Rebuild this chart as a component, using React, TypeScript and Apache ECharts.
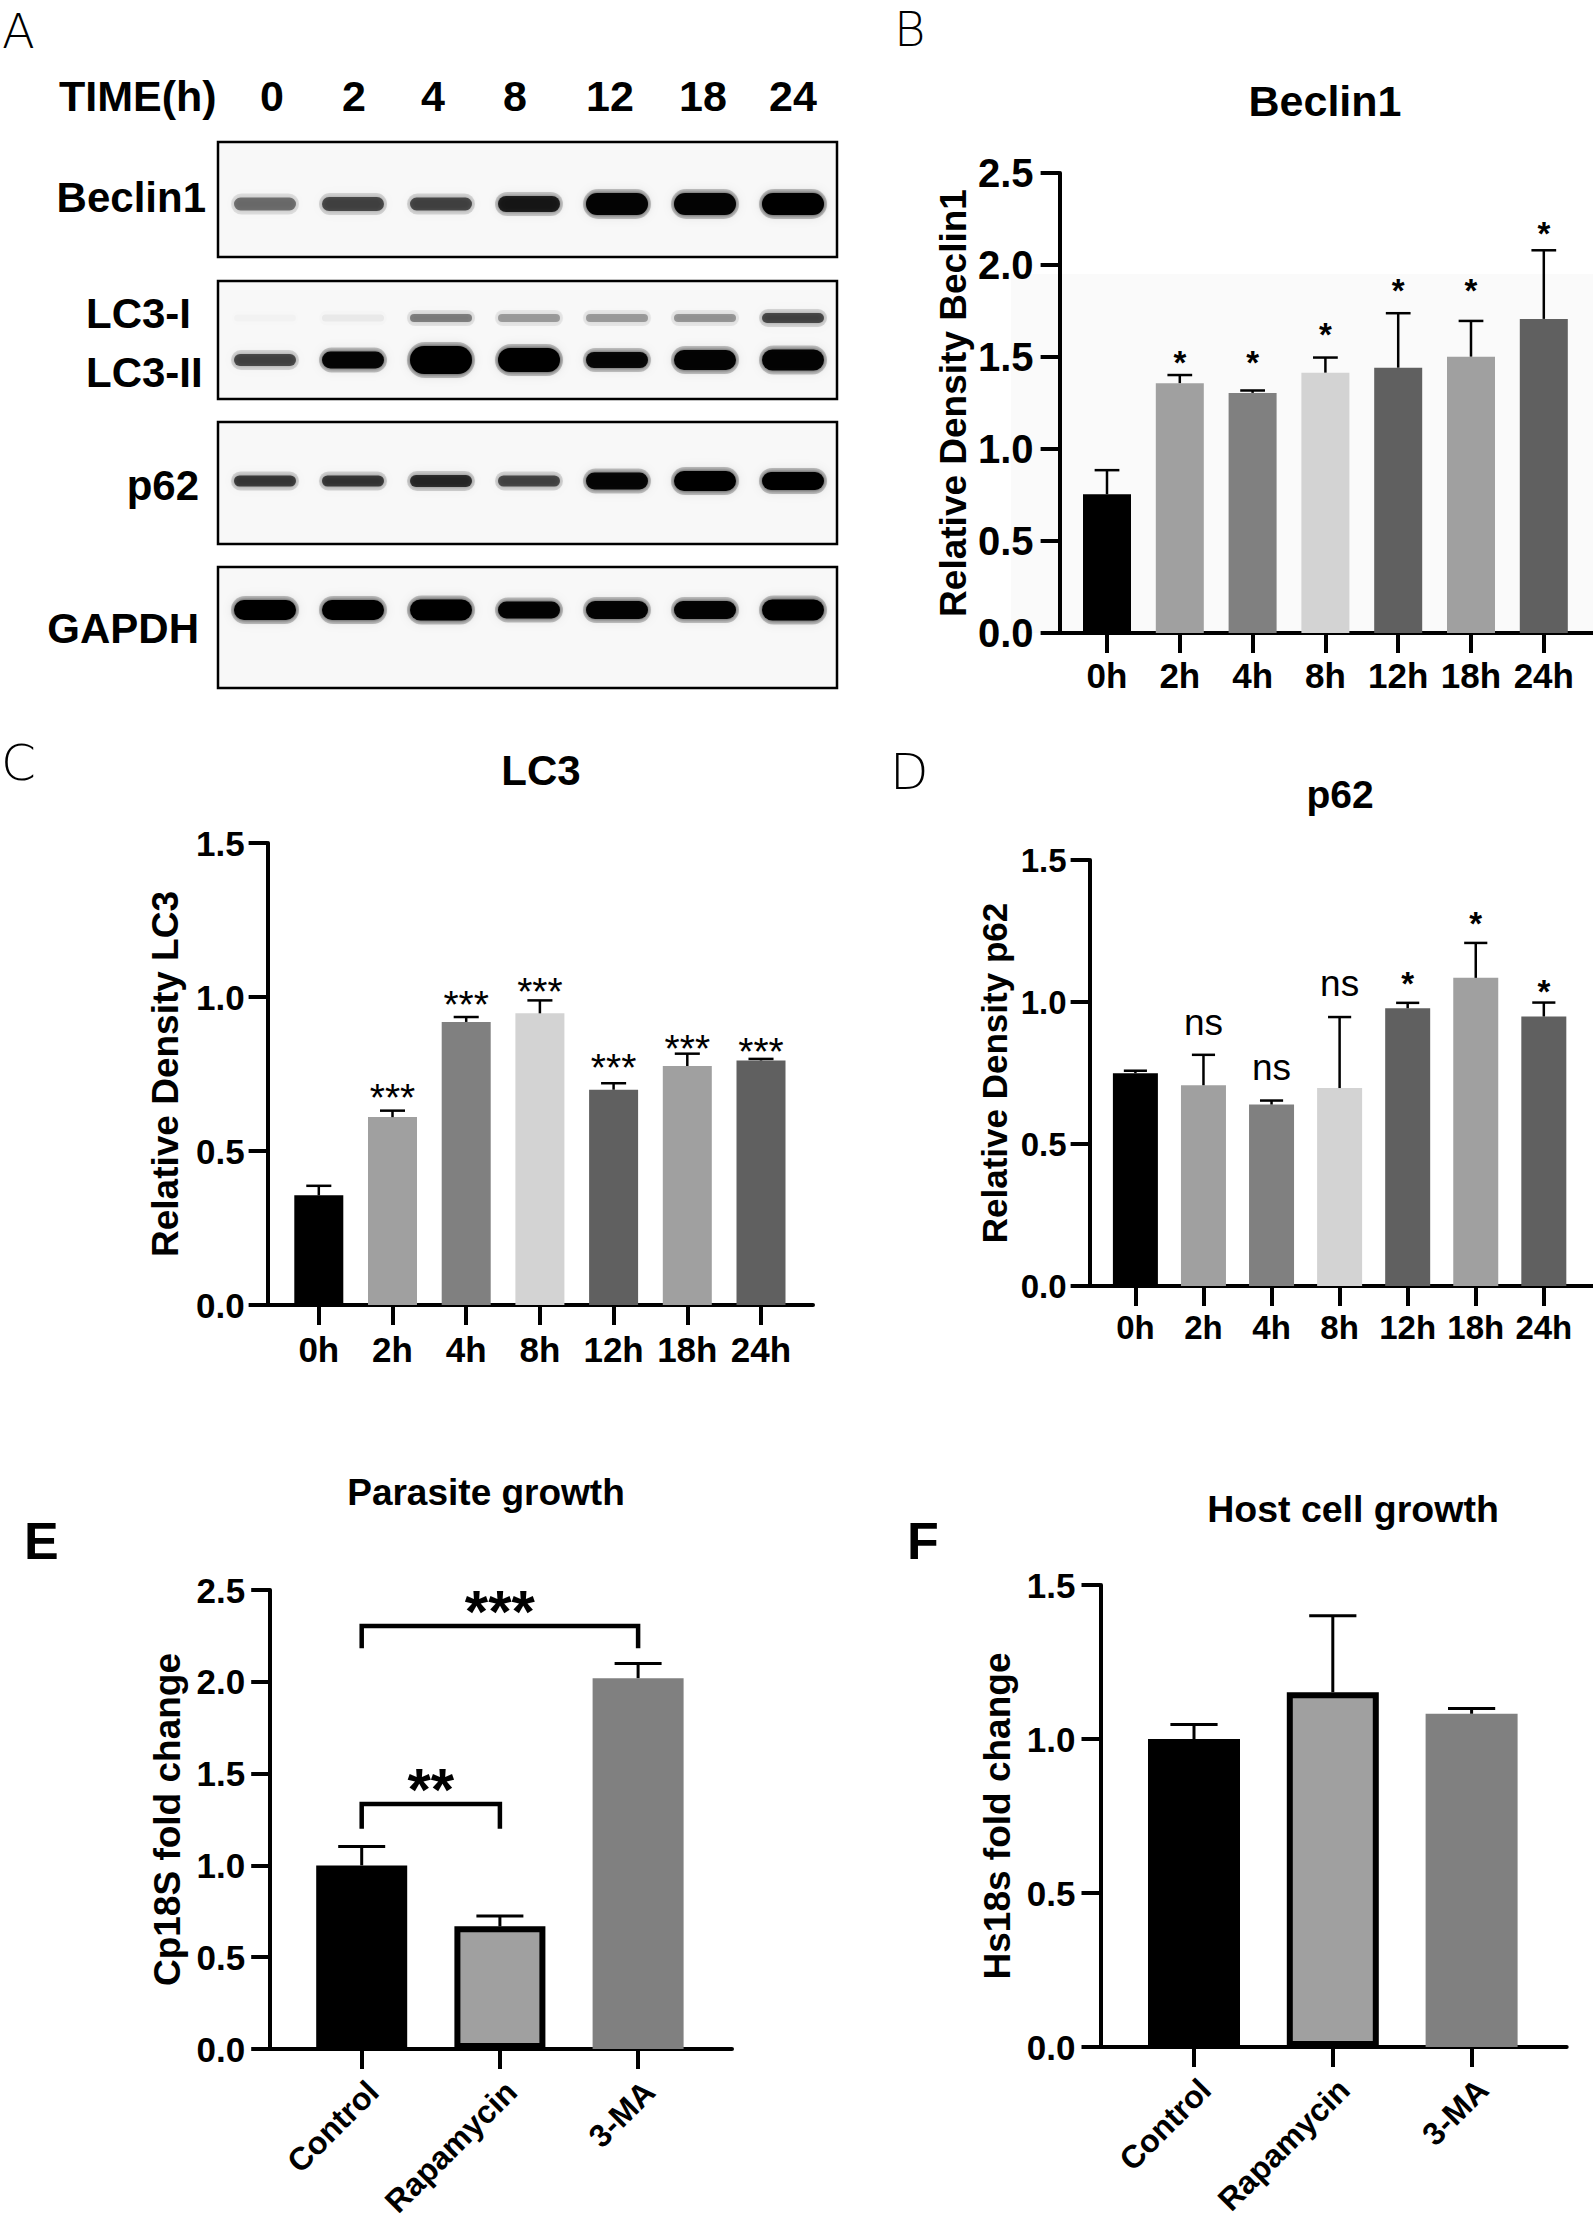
import React, { useEffect, useRef } from 'react';
import * as echarts from 'echarts';

const SANS = '"Liberation Sans", Arial, Helvetica, sans-serif';
const NARROW = '"Liberation Sans Narrow", "Arial Narrow", "Liberation Sans", sans-serif';
const THIN = '"DejaVu Sans", "Liberation Sans", sans-serif';

// ---------------- Panel A : western blot (band intensities 0..1) ----------------
const blotLanes = ['0', '2', '4', '8', '12', '18', '24'];
const beclinBand = [0.45, 0.6, 0.6, 0.8, 0.96, 0.96, 1.0];
const lc3IBand = [0.02, 0.05, 0.4, 0.3, 0.3, 0.32, 0.6];
const lc3IIBand = [0.6, 0.95, 1.0, 1.0, 0.93, 0.96, 0.96];
const p62Band = [0.65, 0.66, 0.72, 0.6, 0.94, 1.0, 1.0];
const gapdhBand = [1.0, 1.0, 1.0, 0.97, 0.97, 0.97, 1.0];

// ---------------- Panels B-D : time course ----------------
const timeCats = ['0h', '2h', '4h', '8h', '12h', '18h', '24h'];
const timeColors = ['#000000', '#a0a0a0', '#808080', '#d3d3d3', '#606060', '#a0a0a0', '#606060'];

const beclinMean = [0.754, 1.358, 1.305, 1.415, 1.442, 1.502, 1.707];
const beclinErr = [0.131, 0.044, 0.013, 0.082, 0.296, 0.194, 0.373];
const beclinSig = ['', '*', '*', '*', '*', '*', '*'];
const beclinSigY = [0, 1.51, 1.51, 1.66, 1.9, 1.9, 2.21];

const lc3Mean = [0.356, 0.61, 0.919, 0.947, 0.699, 0.776, 0.794];
const lc3Err = [0.031, 0.021, 0.016, 0.042, 0.021, 0.04, 0.005];
const lc3Sig = ['', '***', '***', '***', '***', '***', '***'];
const lc3SigY = [0, 0.701, 1.003, 1.043, 0.799, 0.858, 0.851];

const p62Mean = [0.749, 0.707, 0.639, 0.697, 0.978, 1.085, 0.949];
const p62Err = [0.009, 0.107, 0.014, 0.25, 0.019, 0.123, 0.049];
const p62Sig = ['', 'ns', 'ns', 'ns', '*', '*', '*'];
const p62SigY = [0, 0.915, 0.758, 1.054, 1.09, 1.3, 1.063];

// ---------------- Panels E-F : treatments ----------------
const treatCats = ['Control', 'Rapamycin', '3-MA'];
const treatColors = ['#000000', '#a0a0a0', '#808080'];
const treatBorders = [0, 6, 0];

const parasiteMean = [1.0, 0.668, 2.02];
const parasiteErr = [0.103, 0.057, 0.08];
// [from category, to category, bracket top, bracket foot]
const parasiteBrackets = [
  [0, 1, 1.334, 1.2],
  [0, 2, 2.304, 2.183],
];
const parasiteBracketSig = ['**', '***'];
const parasiteBracketSigY = [1.48, 2.45];

const hostMean = [1.0, 1.152, 1.082];
const hostErr = [0.047, 0.248, 0.017];

// ---------------- layout ----------------
const AXW = 4;

type PanelSpec = {
  left: number; top: number; right: number; bottom: number;
  band: number; off: number; ymax: number;
  cats: string[]; mean: number[]; err: number[]; colors: string[]; borders?: number[];
  yName: string; nameGap: number; nameSize: number;
  xFont: number; xMargin: number; rotate?: number; yFont: number; yMargin: number; yFamily: string;
  sig?: string[]; sigY?: number[]; starSize?: number; starWeight?: string; nsSize?: number;
  errW: number;
};

function panelParts(k: number, p: PanelSpec) {
  const xmin = -p.off / p.band;
  const xmax = xmin + (p.right - p.left) / p.band;
  const ticks = p.cats.map((_, i) => i);
  const grid = {
    left: p.left, top: p.top, width: p.right - p.left, height: p.bottom - p.top,
    containLabel: false, outerBoundsMode: 'none',
  };
  const xLabel: any = {
    show: true, customValues: ticks,
    formatter: (v: number) => p.cats[Math.round(v)] ?? '',
    color: '#000', fontFamily: SANS, fontWeight: 'bold', fontSize: p.xFont, margin: p.xMargin,
  };
  if (p.rotate) {
    xLabel.rotate = p.rotate;
    xLabel.align = 'right';
    xLabel.verticalAlign = 'top';
  }
  const xAxis = {
    gridIndex: k, type: 'value', min: xmin, max: xmax,
    axisLine: { show: true, onZero: false, lineStyle: { color: '#000', width: AXW } },
    axisTick: { show: true, customValues: ticks, length: 20, lineStyle: { color: '#000', width: AXW } },
    axisLabel: xLabel,
    splitLine: { show: false },
  };
  const yAxis = {
    gridIndex: k, type: 'value', min: 0, max: p.ymax, interval: 0.5,
    axisLine: { show: true, onZero: false, lineStyle: { color: '#000', width: AXW } },
    axisTick: { show: true, length: 19, lineStyle: { color: '#000', width: AXW } },
    axisLabel: {
      formatter: (v: number) => v.toFixed(1), color: '#000', fontFamily: p.yFamily,
      fontWeight: 'bold', fontSize: p.yFont, margin: p.yMargin,
    },
    splitLine: { show: false },
    name: p.yName, nameLocation: 'middle', nameGap: p.nameGap,
    nameTextStyle: { color: '#000', fontFamily: SANS, fontWeight: 'bold', fontSize: p.nameSize },
  };
  const series: any[] = [];
  series.push({
    type: 'bar', xAxisIndex: k, yAxisIndex: k, silent: true,
    barWidth: Math.round(0.66 * p.band),
    data: p.mean.map((v, i) => ({
      value: [i, v],
      itemStyle: {
        color: p.colors[i], borderColor: '#000',
        borderWidth: p.borders ? p.borders[i] : 0,
      },
    })),
  });
  series.push({
    type: 'custom', xAxisIndex: k, yAxisIndex: k, silent: true, z: 3,
    data: p.mean.map((v, i) => [i, v, v + p.err[i]]),
    encode: { x: 0, y: [1, 2] },
    renderItem: (params: any, api: any) => {
      const x = api.value(0);
      const a = api.coord([x, api.value(1)]);
      const b = api.coord([x, api.value(2)]);
      const hw = api.size([0.34, 0])[0] / 2;
      return {
        type: 'group',
        children: [
          { type: 'line', shape: { x1: a[0], y1: a[1], x2: b[0], y2: b[1] }, style: { stroke: '#000', lineWidth: p.errW } },
          { type: 'line', shape: { x1: b[0] - hw, y1: b[1], x2: b[0] + hw, y2: b[1] }, style: { stroke: '#000', lineWidth: p.errW } },
        ],
      };
    },
  });
  if (p.sig && p.sigY) {
    const items = p.sig.map((s, i) => ({ s, i, y: p.sigY![i] })).filter((d) => d.s);
    series.push({
      type: 'custom', xAxisIndex: k, yAxisIndex: k, silent: true, z: 4,
      data: items.map((d) => [d.i, d.y]),
      renderItem: (params: any, api: any) => {
        const d = items[params.dataIndex];
        const pt = api.coord([api.value(0), api.value(1)]);
        const star = d.s.includes('*');
        const fs = star ? (p.starSize as number) : (p.nsSize as number);
        return {
          type: 'text', x: pt[0], y: pt[1] + (star ? 0.21 : -0.09) * fs,
          style: {
            text: d.s, fill: '#000', fontFamily: SANS, fontSize: fs,
            fontWeight: star ? p.starWeight : 'normal', align: 'center', verticalAlign: 'middle',
          },
        };
      },
    });
  }
  return { grid, xAxis, yAxis, series };
}

const panels: PanelSpec[] = [
  {
    left: 1059.6, top: 173, right: 1593, bottom: 633, band: 72.8, off: 47.4, ymax: 2.5,
    cats: timeCats, mean: beclinMean, err: beclinErr, colors: timeColors,
    yName: 'Relative Density Beclin1', nameGap: 88, nameSize: 37,
    xFont: 35, xMargin: 25, yFont: 40, yMargin: 26, yFamily: NARROW,
    sig: beclinSig, sigY: beclinSigY, starSize: 33, starWeight: 'bold', nsSize: 35, errW: 2.5,
  },
  {
    left: 267.6, top: 843, right: 813, bottom: 1305, band: 73.7, off: 51.2, ymax: 1.5,
    cats: timeCats, mean: lc3Mean, err: lc3Err, colors: timeColors,
    yName: 'Relative Density LC3', nameGap: 84, nameSize: 37,
    xFont: 35, xMargin: 27, yFont: 35, yMargin: 23, yFamily: SANS,
    sig: lc3Sig, sigY: lc3SigY, starSize: 39, starWeight: 'normal', nsSize: 35, errW: 2.5,
  },
  {
    left: 1089.6, top: 860, right: 1593, bottom: 1286, band: 68.07, off: 45.8, ymax: 1.5,
    cats: timeCats, mean: p62Mean, err: p62Err, colors: timeColors,
    yName: 'Relative Density p62', nameGap: 78, nameSize: 35,
    xFont: 33, xMargin: 25, yFont: 33, yMargin: 23, yFamily: SANS,
    sig: p62Sig, sigY: p62SigY, starSize: 33, starWeight: 'bold', nsSize: 37, errW: 2.5,
  },
  {
    left: 270.2, top: 1590, right: 732, bottom: 2049, band: 138.2, off: 91.5, ymax: 2.5,
    cats: treatCats, mean: parasiteMean, err: parasiteErr, colors: treatColors, borders: treatBorders,
    yName: 'Cp18S fold change', nameGap: 84, nameSize: 37,
    xFont: 32, xMargin: 26, rotate: 45, yFont: 35, yMargin: 25, yFamily: SANS, errW: 3,
  },
  {
    left: 1100.5, top: 1585, right: 1566.7, bottom: 2047, band: 138.8, off: 93.5, ymax: 1.5,
    cats: treatCats, mean: hostMean, err: hostErr, colors: treatColors, borders: treatBorders,
    yName: 'Hs18s fold change', nameGap: 85, nameSize: 37,
    xFont: 32, xMargin: 26, rotate: 45, yFont: 35, yMargin: 25, yFamily: SANS, errW: 3,
  },
];

// ---------------- blot layout ----------------
const laneX = (i: number) => 265 + 88 * i;
const timeLabelX = [272, 354, 433, 515, 610, 703, 793];
const blotBoxes = [
  { y: 142, h: 115 },
  { y: 281, h: 118 },
  { y: 422, h: 122 },
  { y: 567, h: 121 },
];
const bandRows = [
  { vals: beclinBand, cy: 204, h: [13, 14, 13, 16, 22, 22, 22] },
  { vals: lc3IBand, cy: 318, h: [7, 7, 8, 8, 8, 8, 10] },
  { vals: lc3IIBand, cy: 360, h: [12, 17, 28, 24, 16, 20, 21] },
  { vals: p62Band, cy: 481, h: [11, 11, 12, 11, 17, 20, 18] },
  { vals: gapdhBand, cy: 610, h: [20, 20, 21, 17, 18, 18, 21] },
];

function txt(text: string, x: number, y: number, size: number, weight: string, align: string, family = SANS) {
  return {
    type: 'text', x, y, z: 10,
    style: { text, fill: '#000', fontFamily: family, fontSize: size, fontWeight: weight, align, verticalAlign: 'middle' },
  };
}

function buildGraphic() {
  const els: any[] = [];
  // faint background in panel B
  els.push({ type: 'rect', z: -1, shape: { x: 1011, y: 274, width: 582, height: 359 }, style: { fill: '#fafafa' } });
  // panel letters
  els.push(txt('A', 2, 31, 48, '200', 'left', THIN));
  els.push(txt('B', 894, 29, 48, '200', 'left', THIN));
  els.push(txt('C', 1, 763, 50, '200', 'left', THIN));
  els.push(txt('D', 890, 772, 50, '200', 'left', THIN));
  els.push(txt('E', 24, 1541, 52, 'bold', 'left'));
  els.push(txt('F', 907, 1541, 52, 'bold', 'left'));
  // titles
  els.push(txt('Beclin1', 1325, 101, 43, 'bold', 'center'));
  els.push(txt('LC3', 541, 770, 42, 'bold', 'center'));
  els.push(txt('p62', 1340, 794, 39, 'bold', 'center'));
  els.push(txt('Parasite growth', 486, 1492, 37, 'bold', 'center'));
  els.push(txt('Host cell growth', 1353, 1509, 37.5, 'bold', 'center'));
  // blot header
  els.push(txt('TIME(h)', 59, 96, 43, 'bold', 'left'));
  blotLanes.forEach((l, i) => els.push(txt(l, timeLabelX[i], 96, 43, 'bold', 'center')));
  // blot boxes
  blotBoxes.forEach((b) => {
    els.push({
      type: 'rect', z: 1, shape: { x: 218, y: b.y, width: 619, height: b.h },
      style: { fill: '#f8f8f8', stroke: '#000', lineWidth: 2.5 },
    });
  });
  // bands: soft halo + rounded core
  bandRows.forEach((row) => {
    row.vals.forEach((a, i) => {
      const h = row.h[i];
      els.push({
        type: 'rect', z: 2,
        shape: { x: laneX(i) - 34, y: row.cy - h / 2 - 4, width: 68, height: h + 8, r: (h + 8) / 2 },
        style: { fill: `rgba(0,0,0,${(a * 0.22).toFixed(3)})`, shadowBlur: 10, shadowColor: `rgba(0,0,0,${(a * 0.3).toFixed(3)})` },
      });
      els.push({
        type: 'rect', z: 3,
        shape: { x: laneX(i) - 31, y: row.cy - h / 2, width: 62, height: h, r: h / 2 },
        style: { fill: `rgba(0,0,0,${a})`, shadowBlur: 4, shadowColor: `rgba(0,0,0,${(a * 0.7).toFixed(3)})` },
      });
    });
  });
  // row labels
  els.push(txt('Beclin1', 206, 197, 42, 'bold', 'right'));
  els.push(txt('LC3-I', 86, 313, 42, 'bold', 'left'));
  els.push(txt('LC3-II', 86, 372, 42, 'bold', 'left'));
  els.push(txt('p62', 199, 485, 42, 'bold', 'right'));
  els.push(txt('GAPDH', 199, 628, 42, 'bold', 'right'));
  return els;
}

export default function App() {
  const ref = useRef<HTMLDivElement>(null);
  useEffect(() => {
    document.body.style.margin = '0';
    if (!ref.current) return;
    const chart = echarts.init(ref.current, undefined, { renderer: 'svg' });
    const parts = panels.map((p, k) => panelParts(k, p));
    const series: any[] = [];
    parts.forEach((pp) => series.push(...pp.series));
    // significance brackets for panel E
    series.push({
      type: 'custom', xAxisIndex: 3, yAxisIndex: 3, silent: true, z: 4,
      data: parasiteBrackets.map((b, j) => [b[0], b[2], b[1], b[3], parasiteBracketSigY[j]]),
      encode: { x: [0, 2], y: [1, 3, 4] },
      renderItem: (params: any, api: any) => {
        const x0 = api.value(0), top = api.value(1), x1 = api.value(2), foot = api.value(3), ty = api.value(4);
        const a = api.coord([x0, foot]);
        const b = api.coord([x0, top]);
        const c = api.coord([x1, top]);
        const d = api.coord([x1, foot]);
        const t = api.coord([(x0 + x1) / 2, ty]);
        const fs = 60;
        return {
          type: 'group',
          children: [
            { type: 'polyline', shape: { points: [a, b, c, d] }, style: { stroke: '#000', lineWidth: 4.5, fill: null } },
            {
              type: 'text', x: t[0], y: t[1] + 0.21 * fs,
              style: {
                text: parasiteBracketSig[params.dataIndex], fill: '#000', fontFamily: SANS,
                fontSize: fs, fontWeight: 'bold', align: 'center', verticalAlign: 'middle',
              },
            },
          ],
        };
      },
    });
    const option: any = {
      animation: false,
      backgroundColor: '#ffffff',
      grid: parts.map((pp) => pp.grid),
      xAxis: parts.map((pp) => pp.xAxis),
      yAxis: parts.map((pp) => pp.yAxis),
      series,
      graphic: { elements: buildGraphic() },
    };
    chart.setOption(option);
    return () => chart.dispose();
  }, []);
  return <div ref={ref} style={{ width: 1593, height: 2228 }} />;
}
